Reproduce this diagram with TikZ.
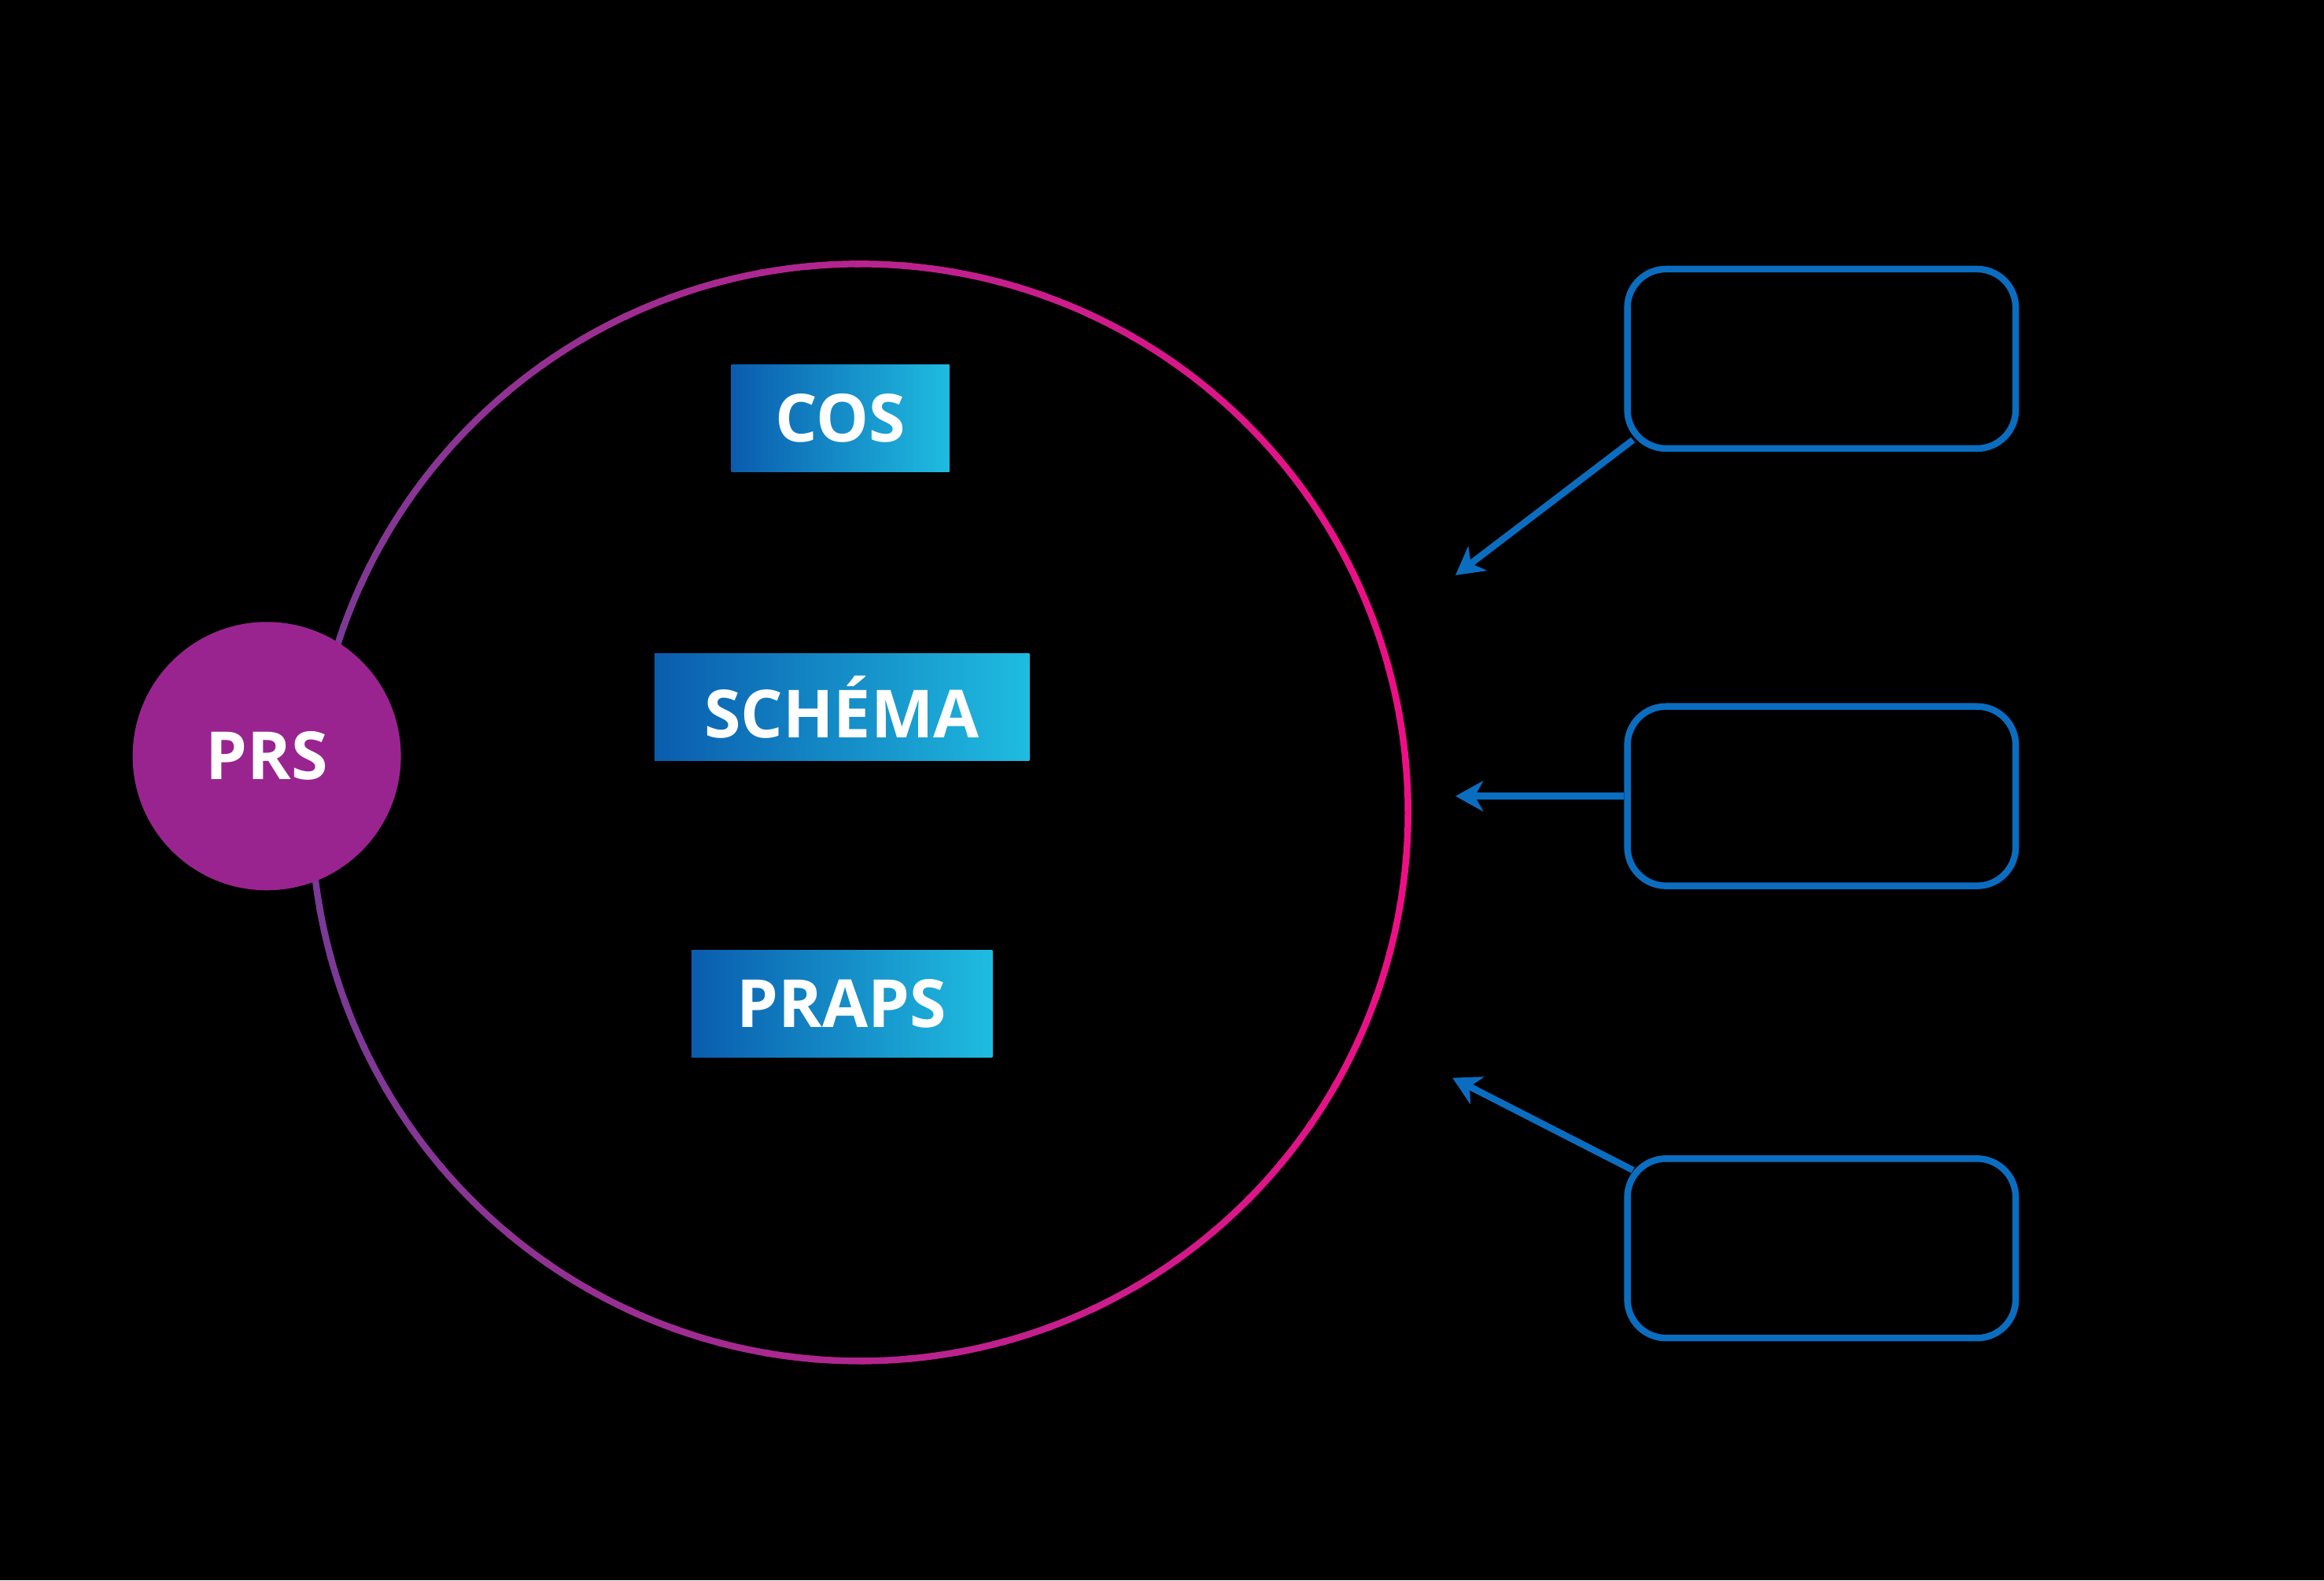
\documentclass[tikz,border=0pt]{standalone}
\usepackage{fontspec}
\setmainfont{Open Sans}
\usetikzlibrary{arrows.meta}
\definecolor{prs}{HTML}{9A248F}
\definecolor{ring1}{HTML}{7A3A96}
\definecolor{ring2}{HTML}{EE0F86}
\definecolor{dblue}{HTML}{0A5CAE}
\definecolor{cyan1}{HTML}{1FBCE0}
\definecolor{bblue}{HTML}{0B6DC0}
\begin{document}
\begin{tikzpicture}[x=0.01884cm,y=-0.01884cm,
  lab/.style={left color=dblue,right color=cyan1,text=white,font=\bfseries\fontsize{24}{28}\selectfont,inner sep=0pt,minimum height=72*0.01884cm},
  side/.style={draw=bblue,line width=2.4pt,rounded corners=14pt,minimum width=262*0.01884cm,minimum height=121*0.01884cm},
  arr/.style={draw=bblue,line width=2.4pt,-{Stealth[length=10pt,width=11pt,inset=3pt]}}]
\fill[black] (0,0) rectangle (1568,1066);
\foreach \a in {0,5,...,355}{
  \pgfmathsetmacro{\t}{(1+cos(\a))/2*100}
  \colorlet{cc}{ring2!\t!ring1}
  \draw[cc,line width=2.4pt] (580,548) ++(\a:370 and -370) arc[start angle=\a,end angle=\a+5.5,x radius=370,y radius=-370];
}
\node[circle,fill=prs,minimum size=181*0.01884cm,text=white,font=\bfseries\fontsize{24}{28}\selectfont,inner sep=0pt] (prs) at (180,510) {PRS};
\node[lab,minimum width=147*0.01884cm] (cos) at (567,282) {COS};
\node[lab,minimum width=253*0.01884cm] (sch) at (568,477) {SCHÉMA};
\node[lab,minimum width=203*0.01884cm] (praps) at (568,677) {PRAPS};
\node[side] (b1) at (1229,242) {};
\node[side] (b2) at (1229,537) {};
\node[side] (b3) at (1229,842) {};
\coordinate (e1) at (982,388);
\coordinate (e2) at (982,537);
\coordinate (e3) at (980,727);
\draw[arr] (b1.south west)++(6,-8) -- (e1);
\draw[arr] (b2.west) -- (e2);
\draw[arr] (b3.north west)++(6,10) -- (e3);
\end{tikzpicture}
\end{document}
